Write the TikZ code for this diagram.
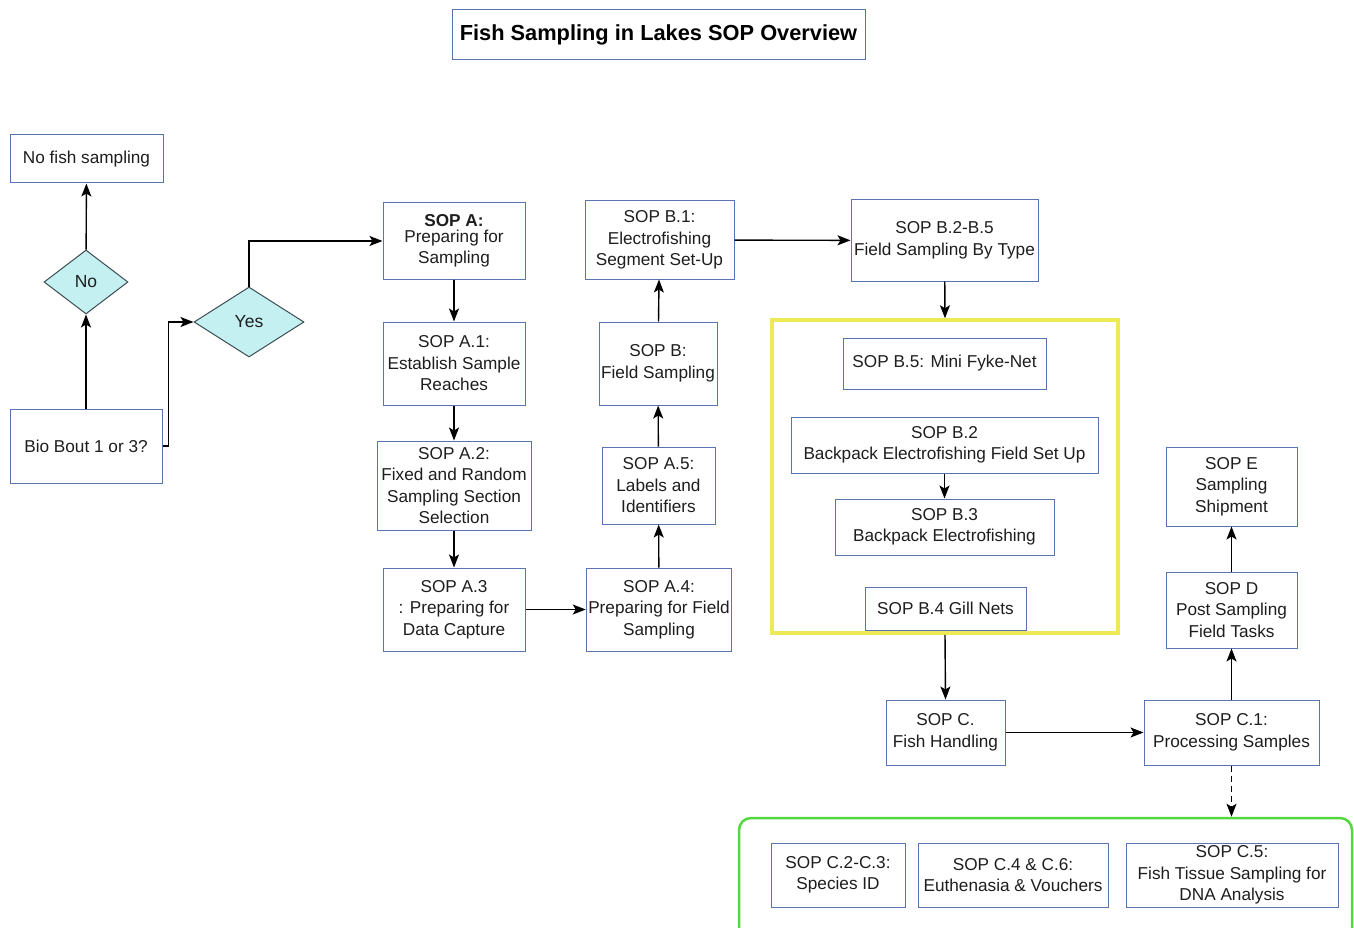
\documentclass[tikz,border=0pt]{standalone}
\usepackage{fontspec}
\setmainfont{Liberation Sans}
\usepackage{tikz}
\usetikzlibrary{arrows.meta,positioning,calc,shapes.geometric}
\definecolor{boxblueD}{RGB}{88,116,178}
\definecolor{decfill}{RGB}{196,240,242}
\definecolor{decdraw}{RGB}{60,78,82}
\definecolor{grpyellow}{RGB}{238,234,86}
\definecolor{grpgreen}{RGB}{84,216,64}
\definecolor{txtgray}{RGB}{30,30,30}
\tikzset{
  blk/.style={draw=boxblueD,fill=white,align=center,inner sep=2pt,
              line width=1pt,text=txtgray,font=\fontsize{17.2}{21.5}\selectfont},
  dec/.style={diamond,draw=decdraw,fill=decfill,inner sep=0pt,line width=1pt,
              text=txtgray,font=\fontsize{17.5}{20}\selectfont},
  ttl/.style={blk,font=\fontsize{21.8}{26}\selectfont\bfseries,text=black},
  ygrp/.style={draw=grpyellow,line width=3.5pt},
  ggrp/.style={draw=grpgreen,line width=2.5pt,rounded corners=12pt},
  arr/.style={-{Stealth[length=13pt,width=10pt,inset=3pt]},line width=1.4pt},
  darr/.style={arr,dashed,dash pattern=on 6pt off 4pt},
  wh/.style 2 args={minimum width=#1pt,minimum height=#2pt},
}

\begin{document}
\begin{tikzpicture}[x=1pt,y=-1pt]
\useasboundingbox (0,0) rectangle (1354,928);
% title
\node[ttl,wh={413}{50}] (title) at (658.5,35) {Fish Sampling in Lakes SOP Overview};
% decision part
\node[blk,wh={153}{48}] (nofish) at (86.5,159) {No fish sampling};
\node[dec,wh={84}{64}] (no) at (86,282) {No};
\node[dec,wh={110}{70}] (yes) at (249,322) {Yes};
\node[blk,wh={152}{74}] (bio) at (86,446) {Bio Bout 1 or 3?};
% SOP A column
\node[blk,wh={142}{76}] (sopA) at (454,241)
  {\textbf{SOP A:}\\[-6pt]Preparing for\\Sampling};
\node[blk,wh={142}{83}] (sopA1) at (454,363.5) {SOP A.1:\\Establish Sample\\Reaches};
\node[blk,wh={154}{89}] (sopA2) at (454,485.5)
  {SOP A.2:\\Fixed and Random\\Sampling Section\\Selection};
\node[blk,wh={142}{83}] (sopA3) at (454,609.5) {SOP A.3\\: Preparing for\\Data Capture};
% SOP A.4 -- B.1 column
\node[blk,wh={142}{83}] (sopA4) at (659,609.5) {SOP A.4:\\Preparing for Field\\Sampling};
\node[blk,wh={113}{77}] (sopA5) at (658.5,485.5) {SOP A.5:\\Labels and\\Identifiers};
\node[blk,wh={118}{83}] (sopB) at (658,363.5) {SOP B:\\Field Sampling};
\node[blk,wh={149}{78}] (sopB1) at (659.5,240)
  {SOP B.1:\\Electrofishing\\Segment Set-Up};
% sampling by type
\node[blk,wh={187}{81}] (sopBtype) at (944.5,240.5) {SOP B.2-B.5\\Field Sampling By Type};
\node[ygrp,wh={346}{313}] (ybox) at (945,476.5) {};
\node[blk,wh={203}{51}] (sopB5) at (944.5,363.5) {SOP B.5: Mini Fyke-Net};
\node[blk,wh={307}{56}] (sopB2) at (944.5,445)
  {SOP B.2\\Backpack Electrofishing Field Set Up};
\node[blk,wh={219}{56}] (sopB3) at (944.5,527) {SOP B.3\\Backpack Electrofishing};
\node[blk,wh={161}{43}] (sopB4) at (945.5,608.5) {SOP B.4 Gill Nets};
% handling and after
\node[blk,wh={119}{65}] (sopC) at (945.5,732.5) {SOP C.\\Fish Handling};
\node[blk,wh={175}{65}] (sopC1) at (1231.5,732.5) {SOP C.1:\\Processing Samples};
\node[blk,wh={131}{76}] (sopD) at (1231.5,610) {SOP D\\Post Sampling\\Field Tasks};
\node[blk,wh={131}{79}] (sopE) at (1231.5,486.5) {SOP E\\Sampling\\Shipment};
% processing group
\node[ggrp,wh={613}{127}] (gbox) at (1045.5,881.5) {};
\node[blk,wh={134}{64}] (sopC23) at (838,875) {SOP C.2-C.3:\\Species ID};
\node[blk,wh={190}{64}] (sopC46) at (1013,875) {SOP C.4 \& C.6:\\Euthenasia \& Vouchers};
\node[blk,wh={212}{64}] (sopC5) at (1232,875)
  {SOP C.5:\\Fish Tissue Sampling for\\DNA Analysis};
% connectors
\draw[arr] (bio) -- (no);
\draw[arr] (no) -- (nofish);
\draw[arr] (bio.east) -- ++(6,0) |- (yes.west);
\draw[arr] (yes.north) |- (sopA.west);
\draw[arr] (sopA) -- (sopA1);
\draw[arr] (sopA1) -- (sopA2);
\draw[arr] (sopA2) -- (sopA3);
\draw[arr] (sopA3) -- (sopA4);
\draw[arr] (sopA4) -- (sopA5);
\draw[arr] (sopA5) -- (sopB);
\draw[arr] (sopB) -- (sopB1);
\draw[arr] (sopB1) -- (sopBtype);
\draw[arr] (sopBtype) -- (ybox.north);
\draw[arr] (sopB2) -- (sopB3);
\draw[arr] (ybox.south) -- (sopC.north);
\draw[arr] (sopC) -- (sopC1);
\draw[arr] (sopC1) -- (sopD);
\draw[arr] (sopD) -- (sopE);
\draw[darr] (sopC1.south) -- (sopC1.south |- gbox.north);
\end{tikzpicture}
\end{document}
